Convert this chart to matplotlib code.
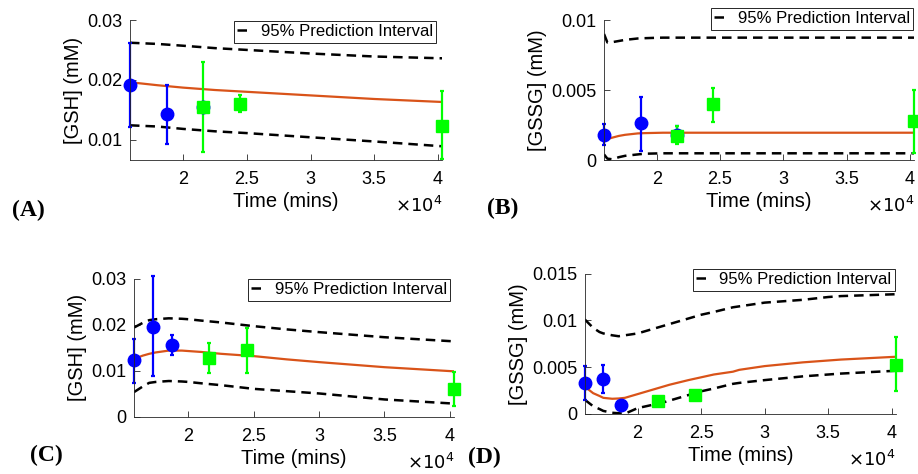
import matplotlib
matplotlib.use("Agg")
import matplotlib.pyplot as plt

plt.rcParams["font.family"] = ["Liberation Sans", "DejaVu Sans"]
plt.rcParams["font.size"] = 12

# sample times (mins): 11, 12, 13, 15, 17, 28 days
T_BLUE_ABD = [15840, 18720, 21600]
T_BLUE_C = [15840, 17280, 18720]
T_BLUE_D = [15840, 17280, 18720]
T_GREEN = [21600, 24480, 40320]
XLIM = (15840, 40320)

# panel A: GSH
a_blue_y = [0.0192, 0.0143, 0.0154]
a_blue_lo = [0.0122, 0.0093, 0.0148]
a_blue_hi = [0.0261, 0.0192, 0.0160]
a_green_y = [0.0154, 0.0159, 0.0123]
a_green_lo = [0.0080, 0.0146, 0.0067]
a_green_hi = [0.0229, 0.0174, 0.0182]
a_t = [15840, 18000, 20000, 22500, 25000, 30000, 35000, 40320]
a_fit = [0.0196, 0.0191, 0.0187, 0.0183, 0.0180, 0.0174, 0.0168, 0.0163]
a_up = [0.0262, 0.0260, 0.0257, 0.0253, 0.0250, 0.0244, 0.0239, 0.0236]
a_lo = [0.0124, 0.0122, 0.0118, 0.0114, 0.0111, 0.0104, 0.0097, 0.0089]

# panel B: GSSG
b_blue_y = [0.00179, 0.00262, 0.00179]
b_blue_lo = [0.00107, 0.00067, 0.00120]
b_blue_hi = [0.00255, 0.00452, 0.00240]
b_green_y = [0.00175, 0.00398, 0.00281]
b_green_lo = [0.00112, 0.00269, 0.00052]
b_green_hi = [0.00243, 0.00517, 0.00500]
b_t = [15840, 16100, 16500, 17000, 17500, 18500, 19000, 20000, 20500, 40320]
b_fit = [0.00143, 0.00150, 0.00160, 0.00172, 0.00180, 0.00190, 0.00192, 0.00194, 0.00195, 0.00195]
b_up = [0.00900, 0.00840, 0.00842, 0.00850, 0.00858, 0.00868, 0.00870, 0.00873, 0.00874, 0.00874]
b_lo = [0.00040, 0.00010, 0.00005, 0.00020, 0.00030, 0.00040, 0.00045, 0.00047, 0.00048, 0.00048]

# panel C: GSH
c_blue_y = [0.01229, 0.01952, 0.01569]
c_blue_lo = [0.00745, 0.00882, 0.01352]
c_blue_hi = [0.0170, 0.0305, 0.0177]
c_green_y = [0.01287, 0.01446, 0.00614]
c_green_lo = [0.00954, 0.00954, 0.00231]
c_green_hi = [0.0161, 0.01937, 0.00976]
c_t = [15840, 16500, 17000, 17500, 18500, 19500, 20000, 21000, 22500, 25000, 27500, 30000, 35000, 40320]
c_fit = [0.0126, 0.0133, 0.0137, 0.0140, 0.0144, 0.0144, 0.0143, 0.0141, 0.0137, 0.0132, 0.0125, 0.0119, 0.0108, 0.0099]
c_up = [0.0194, 0.0204, 0.0210, 0.0212, 0.0214, 0.0213, 0.0212, 0.0209, 0.0205, 0.0197, 0.0190, 0.0184, 0.0173, 0.0164]
c_lo = [0.0054, 0.0066, 0.0074, 0.0076, 0.0078, 0.0077, 0.0076, 0.0073, 0.0069, 0.0061, 0.0056, 0.0051, 0.0038, 0.0029]

# panel D: GSSG
d_blue_y = [0.00329, 0.00375, 0.00089]
d_blue_lo = [0.00150, 0.00221, 0.00075]
d_blue_hi = [0.00507, 0.00525, 0.00100]
d_green_y = [0.00132, 0.00196, 0.00525]
d_green_lo = [0.00120, 0.00185, 0.00239]
d_green_hi = [0.00145, 0.00207, 0.00821]
d_t = [15840, 16500, 17000, 17300, 18000, 18500, 19000, 20000, 22000, 22500, 24000, 25000, 26000, 27500, 28000, 30000, 33000, 35000, 36000, 40320]
d_fit = [0.0029, 0.0022, 0.0019, 0.0017, 0.0016, 0.00163, 0.0017, 0.0021, 0.0029, 0.0031, 0.0036, 0.0039, 0.0042, 0.0045, 0.0047, 0.0051, 0.0055, 0.0057, 0.0058, 0.0061]
d_up = [0.0101, 0.0092, 0.00875, 0.0086, 0.0084, 0.0083, 0.0084, 0.0086, 0.0094, 0.0096, 0.0102, 0.0106, 0.0109, 0.0114, 0.0115, 0.0119, 0.0122, 0.0125, 0.0126, 0.0128]
d_lo = [0.0015, 0.0008, 0.0005, 0.0003, 0.0001, 0.00005, 0.0, 0.0006, 0.0012, 0.0014, 0.0020, 0.0024, 0.0027, 0.0032, 0.0033, 0.0036, 0.0040, 0.0042, 0.0043, 0.0046]

FIT_COLOR = "#D95319"
BLUE = "#0000FF"
GREEN = "#00FF00"
SPINE = "#262626"


def errbars(ax, t, y, lo, hi, fmt, color, ms):
    yerr = [[v - l for v, l in zip(y, lo)], [h - v for v, h in zip(y, hi)]]
    cont = ax.errorbar(t, y, yerr=yerr, fmt=fmt, color=color, ms=ms,
                       elinewidth=1.6, capsize=1.5, capthick=1.6)
    for art in cont.get_children():
        art.set_clip_on(False)


def draw_panel(ax, tb, by, blo, bhi, gy, glo, ghi, t, fit, up, lo,
               ylabel, ylim, yticks, yticklabels, leg_anchor, tag, tag_xy):
    ax.plot(t, up, color="black", lw=1.8, dashes=(3.8, 2.4),
            label="95% Prediction Interval")
    ax.plot(t, lo, color="black", lw=1.8, dashes=(3.8, 2.4))
    ax.plot(t, fit, color=FIT_COLOR, lw=1.6)
    errbars(ax, tb, by, blo, bhi, "o", BLUE, 9)
    errbars(ax, T_GREEN, gy, glo, ghi, "s", GREEN, 9)
    ax.set_xlim(*XLIM)
    ax.set_ylim(*ylim)
    ax.set_xticks([20000, 25000, 30000, 35000, 40000])
    ax.set_xticklabels(["2", "2.5", "3", "3.5", "4"])
    ax.set_yticks(yticks)
    ax.set_yticklabels(yticklabels)
    ax.tick_params(direction="in", length=4, width=0.6, colors=SPINE, labelcolor="black",
                   labelsize=13)
    ax.tick_params(axis="x", pad=8)
    ax.tick_params(axis="y", pad=5.5)
    for s in ("top", "right"):
        ax.spines[s].set_visible(False)
    for s in ("left", "bottom"):
        ax.spines[s].set_color(SPINE)
        ax.spines[s].set_linewidth(0.6)
    ax.set_xlabel("Time (mins)", fontsize=14.5, labelpad=3)
    ax.set_ylabel(ylabel, fontsize=14.5, labelpad=3)
    ax.text(1.0, -0.33, r"$\times10^{4}$", transform=ax.transAxes, ha="right", va="center", fontsize=13)
    leg = ax.legend(loc="upper right", handlelength=0.6, handletextpad=0.8, fontsize=12,
                    fancybox=False, framealpha=1, edgecolor=SPINE, borderpad=0.2,
                    borderaxespad=0, bbox_to_anchor=leg_anchor)
    leg.get_frame().set_linewidth(0.7)
    ax.figure.text(tag_xy[0], tag_xy[1], tag, fontsize=17, fontweight="bold",
                   family="Liberation Serif", ha="left", va="center")


fig = plt.figure(figsize=(9.18, 4.74), dpi=100)
ax_a = fig.add_axes([0.1416, 0.6624, 0.340, 0.2954])
ax_b = fig.add_axes([0.658, 0.6624, 0.3377, 0.2954])
ax_c = fig.add_axes([0.146, 0.1203, 0.3486, 0.2918])
ax_d = fig.add_axes([0.637, 0.1272, 0.3388, 0.2954])

draw_panel(ax_a, T_BLUE_ABD, a_blue_y, a_blue_lo, a_blue_hi, a_green_y, a_green_lo, a_green_hi,
           a_t, a_fit, a_up, a_lo, "[GSH] (mM)", (0.0066, 0.03), [0.01, 0.02, 0.03],
           ["0.01", "0.02", "0.03"], (0.981, 0.993), "(A)", (12 / 918, 1 - 210 / 474))
draw_panel(ax_b, T_BLUE_ABD, b_blue_y, b_blue_lo, b_blue_hi, b_green_y, b_green_lo, b_green_hi,
           b_t, b_fit, b_up, b_lo, "[GSSG] (mM)", (0, 0.01), [0, 0.005, 0.01],
           ["0", "0.005", "0.01"], (0.997, 1.086), "(B)", (487 / 918, 1 - 208 / 474))
draw_panel(ax_c, T_BLUE_C, c_blue_y, c_blue_lo, c_blue_hi, c_green_y, c_green_lo, c_green_hi,
           c_t, c_fit, c_up, c_lo, "[GSH] (mM)", (0, 0.03), [0, 0.01, 0.02, 0.03],
           ["0", "0.01", "0.02", "0.03"], (0.9875, 0.998), "(C)", (30 / 918, 1 - 455 / 474))
draw_panel(ax_d, T_BLUE_D, d_blue_y, d_blue_lo, d_blue_hi, d_green_y, d_green_lo, d_green_hi,
           d_t, d_fit, d_up, d_lo, "[GSSG] (mM)", (0, 0.015), [0, 0.005, 0.01, 0.015],
           ["0", "0.005", "0.01", "0.015"], (0.997, 1.034), "(D)", (468 / 918, 1 - 457 / 474))

fig.savefig("out.png", dpi=100)
